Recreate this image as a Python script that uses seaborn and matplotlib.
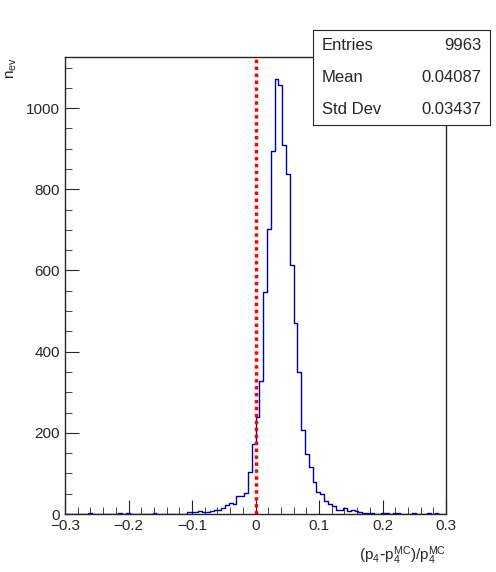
import numpy as np
import matplotlib
matplotlib.use("Agg")
import matplotlib.pyplot as plt
import seaborn as sns
import pandas as pd
from matplotlib.ticker import MultipleLocator

bin_centers = [-0.264, -0.216, -0.204, -0.162, -0.150, -0.144, -0.138, -0.132, -0.126, -0.114,
               -0.108, -0.102, -0.096, -0.090, -0.084, -0.078, -0.072, -0.066, -0.060, -0.054,
               -0.048, -0.042, -0.036, -0.030, -0.024, -0.018, -0.012, -0.006, 0.000, 0.006,
               0.012, 0.018, 0.024, 0.030, 0.036, 0.042, 0.048, 0.054, 0.060, 0.066,
               0.072, 0.078, 0.084, 0.090, 0.096, 0.102, 0.108, 0.114, 0.120, 0.126,
               0.132, 0.138, 0.144, 0.150, 0.156, 0.162, 0.168, 0.174, 0.180, 0.186,
               0.198, 0.204, 0.216, 0.222, 0.246, 0.270, 0.282]
counts = [2, 2, 2, 3, 1, 1, 1, 1, 1, 1,
          5, 5, 6, 7, 6, 6, 8, 10, 11, 15,
          21, 26, 24, 44, 44, 51, 103, 172, 240, 328,
          546, 701, 895, 1073, 1057, 910, 837, 613, 470, 349,
          207, 147, 117, 80, 53, 49, 33, 24, 20, 11,
          11, 14, 8, 11, 8, 4, 2, 3, 2, 1,
          2, 2, 2, 2, 2, 2, 2]
stats_labels = ["Entries", "Mean", "Std Dev"]
stats_values = ["9963", "0.04087", "0.03437"]

df = pd.DataFrame({"x": np.array(bin_centers) + 0.003, "w": counts})

sns.set_style("ticks")
plt.rcParams['font.family'] = ['Liberation Sans', 'DejaVu Sans']
fig = plt.figure(figsize=(4.96, 5.72), dpi=100)
ax = fig.add_axes([65/496, 1-514/572, (446-65)/496, (514-57)/572])
sns.histplot(data=df, x="x", weights="w", bins=100, binrange=(-0.3, 0.3),
             element="step", fill=False, color="#0000aa", linewidth=1, ax=ax)
ax.axvline(0, color="red", linestyle=(0, (1, 1)), linewidth=2.5)
ax.set_xlim(-0.3, 0.3)
ax.set_ylim(0, 1126)
ax.set_xlabel(""); ax.set_ylabel("")
ax.xaxis.set_major_locator(MultipleLocator(0.1))
ax.xaxis.set_minor_locator(MultipleLocator(0.02))
ax.yaxis.set_major_locator(MultipleLocator(200))
ax.yaxis.set_minor_locator(MultipleLocator(50))
ax.tick_params(which="both", direction="in", labelsize=11)
ax.tick_params(which="major", length=10)
ax.tick_params(which="minor", length=5)
ax.set_xticks([-0.3, -0.2, -0.1, 0, 0.1, 0.2, 0.3])
ax.set_xticklabels(["−0.3", "−0.2", "−0.1", "0", "0.1", "0.2", "0.3"])
for s in ax.spines.values():
    s.set_linewidth(1)
fig.text(446/496, 1-560/572, r"$\mathregular{(p_4\text{-}p_4^{MC})/p_4^{MC}}$", ha="right", fontsize=11)
fig.text(12/496, 1-68/572, r"$\mathregular{n_{ev}}$", rotation=90, ha="center", va="center", fontsize=11)

box = ax.figure.add_axes([313/496, 1-125/572, (490-313)/496, (125-30)/572])
box.set_xticks([]); box.set_yticks([])
for i, (l, v) in enumerate(zip(stats_labels, stats_values)):
    y = 1 - (i + 0.5) / 3
    box.text(0.05, y, l, ha="left", va="center", fontsize=12)
    box.text(0.95, y, v, ha="right", va="center", fontsize=12)
fig.savefig("out.png", dpi=100)
